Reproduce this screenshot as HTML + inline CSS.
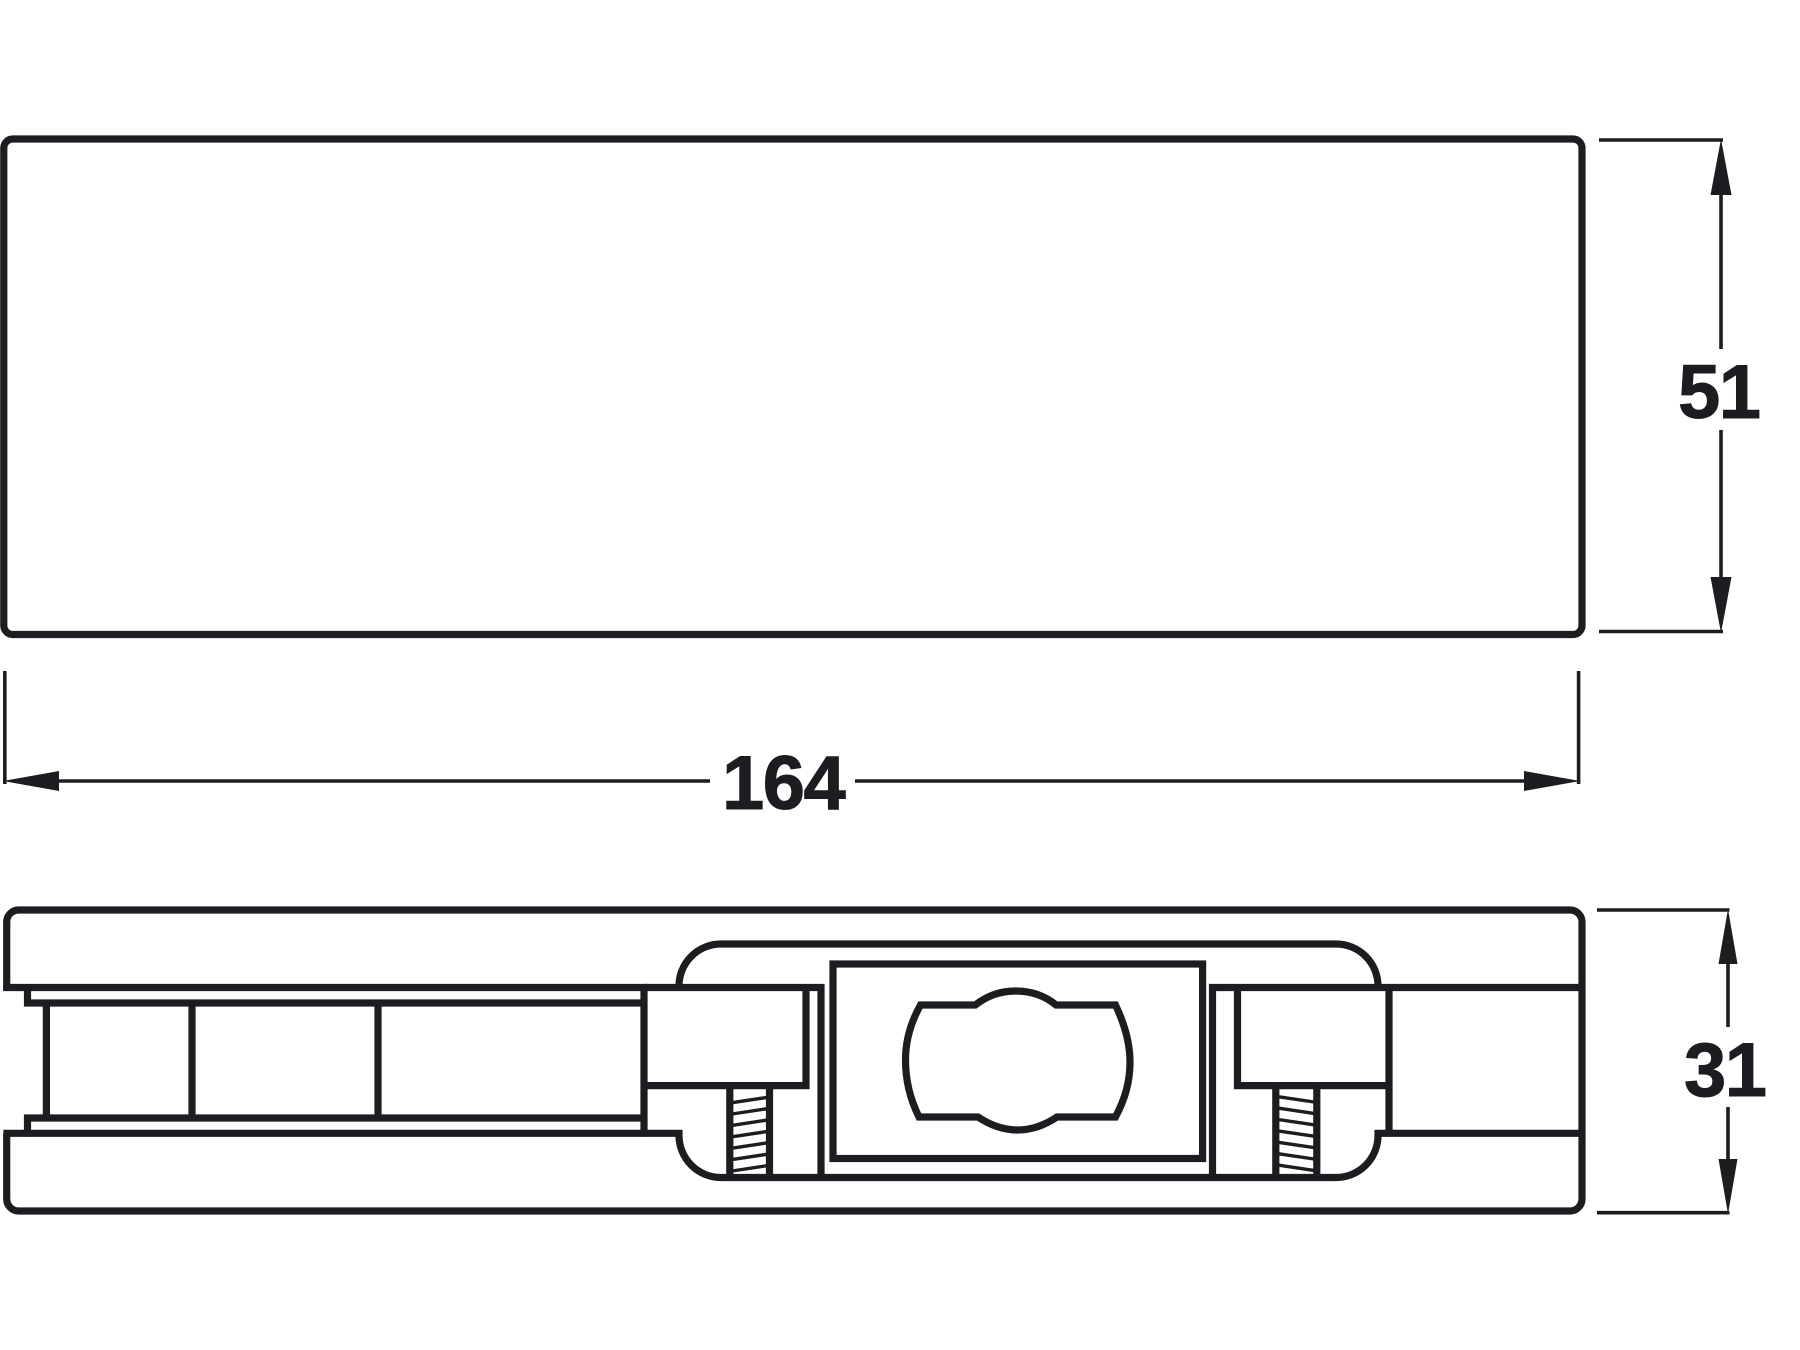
<!DOCTYPE html>
<html><head><meta charset="utf-8"><style>
html,body{margin:0;padding:0;background:#fff}
svg{display:block}
text{font-family:"Liberation Sans",Arial,sans-serif;font-weight:700;font-size:76px;fill:#1d1c20;stroke:#1d1c20;stroke-width:1;letter-spacing:-1.5px}
</style></head><body>
<svg width="1800" height="1350" viewBox="0 0 1800 1350" xmlns="http://www.w3.org/2000/svg">
<rect width="1800" height="1350" fill="#fff"/>
<g fill="none" stroke="#1d1c20" stroke-width="7.2" stroke-linejoin="miter">
<!-- top view -->
<rect x="3.8" y="139" width="1578.2" height="495.5" rx="9"/>
<!-- outer lower -->
<path d="M6.7 990.7V922a12 12 0 0 1 12-12H1570a12 12 0 0 1 12 12V1199a12 12 0 0 1-12 12H18.7a12 12 0 0 1-12-12V1133.3"/>
<!-- channel lines -->
<path d="M3.4 987.5H647.3"/>
<path d="M3.4 1133.3H682"/>
<path d="M27.5 987.5V1006.6M24.2 1003H647"/>
<path d="M24.2 1118H647M27.5 1114.7V1136.6"/>
<path d="M644 984V1136.6"/>
<path d="M46.4 1003V1118M192 1003V1118M378 1003V1118"/>
<!-- inner rounded housing -->
<path d="M679 990V986a42 42 0 0 1 42-42H1336a42 42 0 0 1 42 42V990"/>
<path d="M679 1130V1135.5a42 42 0 0 0 42 42H1336a42 42 0 0 0 42-42V1130"/>
<!-- left block -->
<path d="M644 987.5H821V1177.5"/>
<path d="M806 987.5V1085.6H644"/>
<path d="M729.8 1085.6V1177.5M769.5 1085.6V1177.5"/>
<!-- right block -->
<path d="M1212.5 1177.5V987.5H1582"/>
<path d="M1237.5 987.5V1085.6H1389"/>
<path d="M1389 987.5V1136.6"/>
<path d="M1375 1133.3H1582"/>
<path d="M1275.8 1085.6V1177.5M1316.8 1085.6V1177.5"/>
<!-- centre rect -->
<rect x="833" y="964" width="369.6" height="194.5"/>
<!-- centre shape -->
<path d="M920.5 1005H975.3C988 995 1001 991 1015.6 991C1031 991 1044 995 1056 1005H1115.5C1125 1025 1130 1043 1130 1062C1130 1082 1125 1099 1115.5 1117H1057C1045 1125 1032 1130 1017.6 1130C1003 1130 990 1125 978 1117H919C910 1099 905.5 1081 905.5 1060C905.5 1040 911 1022 920.5 1005Z"/>
</g>
<!-- screw threads -->
<g stroke="#1d1c20" stroke-width="3.4" fill="none">
<path d="M732 1102.7L767 1097.4M732 1114L767 1108.7M732 1125.4L767 1120.1M732 1136.8L767 1131.5M732 1148.2L767 1142.9M732 1159.6L767 1154.3M732 1171L767 1165.7"/>
<path d="M1278 1096.7L1314 1102M1278 1108.1L1314 1113.4M1278 1119.5L1314 1124.8M1278 1130.9L1314 1136.2M1278 1142.3L1314 1147.6M1278 1153.7L1314 1159M1278 1165.1L1314 1170.4"/>
</g>
<!-- dimensions -->
<g stroke="#1d1c20" stroke-width="3.6" fill="none">
<path d="M1599 140H1723M1599 631.5H1723"/>
<path d="M1721 190V349M1721 430V580"/>
<path d="M4.8 671V784M1578.6 671V784"/>
<path d="M55 781H710M855 781H1528"/>
<path d="M1597 910H1729.5M1597 1212.7H1729.5"/>
<path d="M1728 960V1027M1728 1107V1162"/>
</g>
<g fill="#1d1c20" stroke="none">
<path d="M1721 139L1731.5 195H1710.5Z"/>
<path d="M1721 633L1731.5 577H1710.5Z"/>
<path d="M3 781L59 771V791Z"/>
<path d="M1580 781L1524 771V791Z"/>
<path d="M1728 909L1737.5 964H1718.5Z"/>
<path d="M1728 1214L1737.5 1159H1718.5Z"/>
</g>
<text x="1678" y="418">51</text>
<text x="722" y="809">164</text>
<text x="1684" y="1096">31</text>
</svg>
</body></html>
